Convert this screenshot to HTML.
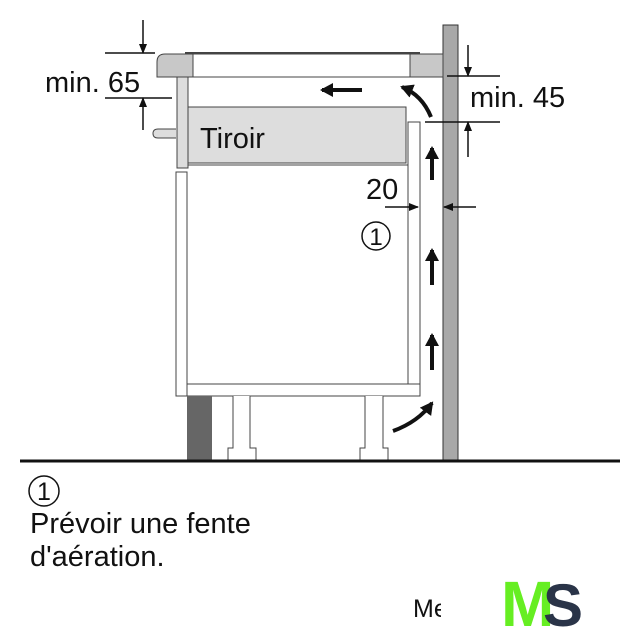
<!DOCTYPE html>
<html><head><meta charset="utf-8"><style>
html,body{margin:0;padding:0;background:#fff;width:643px;height:640px;overflow:hidden}
svg{display:block}
text{font-family:"Liberation Sans",sans-serif;fill:#111}
</style></head><body>
<svg width="643" height="640" viewBox="0 0 643 640" xmlns="http://www.w3.org/2000/svg">
<defs>
<marker id="ah" markerWidth="10" markerHeight="10" refX="9" refY="5" orient="auto" markerUnits="userSpaceOnUse"><path d="M0,1 L10,5 L0,9 Z" fill="#111"/></marker>
<marker id="bh" markerWidth="14" markerHeight="14" refX="11" refY="7" orient="auto" markerUnits="userSpaceOnUse"><path d="M0,0 L13,7 L0,14 Z" fill="#111"/></marker>
</defs>
<rect x="443" y="25" width="15" height="436" fill="#a8a8a8" stroke="#333" stroke-width="1"/>
<line x1="185" y1="53" x2="420" y2="53" stroke="#444" stroke-width="2"/>
<path d="M165,54 H193 V77 H157 V62 Q157,54 165,54 Z" fill="#c8c8c8" stroke="#444"/>
<rect x="193" y="54" width="217" height="23" fill="#fff" stroke="#444"/>
<rect x="410" y="54" width="33" height="23" fill="#c8c8c8" stroke="#444"/>
<rect x="177" y="77" width="11" height="91" fill="#ddd" stroke="#444"/>
<rect x="188" y="107" width="218" height="56" fill="#ddd" stroke="#444"/>
<line x1="188" y1="165" x2="408" y2="165" stroke="#444"/>
<path d="M176,129 H158 Q153,129 153,133.5 Q153,138 158,138 H176" fill="#ddd" stroke="#444"/>
<text x="200" y="148" font-size="29">Tiroir</text>
<rect x="176" y="172" width="11" height="224" fill="#fff" stroke="#444"/>
<rect x="408" y="122" width="12" height="274" fill="#fff" stroke="#444"/>
<rect x="187" y="384" width="233" height="12" fill="#fff" stroke="#444"/>
<rect x="187" y="396" width="25" height="65" fill="#666"/>
<path d="M233,396 V448 H228 V460 H256 V448 H250 V396" fill="#fff" stroke="#444"/>
<path d="M365,396 V448 H360 V460 H388 V448 H383 V396" fill="#fff" stroke="#444"/>
<line x1="20" y1="461" x2="620" y2="461" stroke="#111" stroke-width="3"/>
<line x1="432" y1="180" x2="432" y2="148" stroke="#111" stroke-width="4" marker-end="url(#bh)"/>
<line x1="432" y1="285" x2="432" y2="250" stroke="#111" stroke-width="4" marker-end="url(#bh)"/>
<line x1="432" y1="370" x2="432" y2="335" stroke="#111" stroke-width="4" marker-end="url(#bh)"/>
<path d="M393,431 Q418,422 432,403" fill="none" stroke="#111" stroke-width="4" marker-end="url(#bh)"/>
<path d="M431,117 Q422,95 402,87" fill="none" stroke="#111" stroke-width="4" marker-end="url(#bh)"/>
<line x1="362" y1="90" x2="322" y2="90" stroke="#111" stroke-width="4" marker-end="url(#bh)"/>
<line x1="105" y1="53" x2="155" y2="53" stroke="#111" stroke-width="1.5"/>
<line x1="105" y1="98" x2="172" y2="98" stroke="#111" stroke-width="1.5"/>
<line x1="143" y1="20" x2="143" y2="53" stroke="#111" stroke-width="1.5" marker-end="url(#ah)"/>
<line x1="143" y1="130" x2="143" y2="98" stroke="#111" stroke-width="1.5" marker-end="url(#ah)"/>
<text x="45" y="92" font-size="29">min. 65</text>
<line x1="447" y1="76" x2="500" y2="76" stroke="#111" stroke-width="1.5"/>
<line x1="425" y1="122" x2="500" y2="122" stroke="#111" stroke-width="1.5"/>
<line x1="468" y1="45" x2="468" y2="76" stroke="#111" stroke-width="1.5" marker-end="url(#ah)"/>
<line x1="468" y1="157" x2="468" y2="122" stroke="#111" stroke-width="1.5" marker-end="url(#ah)"/>
<text x="470" y="107" font-size="29">min. 45</text>
<line x1="385" y1="207" x2="418" y2="207" stroke="#111" stroke-width="1.5" marker-end="url(#ah)"/>
<line x1="476" y1="207" x2="444" y2="207" stroke="#111" stroke-width="1.5" marker-end="url(#ah)"/>
<text x="366" y="199" font-size="29">20</text>
<circle cx="376" cy="236" r="14" fill="none" stroke="#111" stroke-width="1.5"/>
<text x="376" y="245" font-size="24" text-anchor="middle">1</text>
<circle cx="44" cy="491" r="15" fill="none" stroke="#111" stroke-width="1.5"/>
<text x="44" y="500" font-size="25" text-anchor="middle">1</text>
<text x="30" y="533" font-size="29">Prévoir une fente</text>
<text x="30" y="566" font-size="29">d'aération.</text>
<text x="413" y="617" font-size="25">Me</text>
<rect x="441" y="590" width="20" height="40" fill="#fff"/>
<text x="501" y="626" font-size="64" font-weight="bold" style="fill:#66ee22;letter-spacing:-5px">M</text>
<text x="543" y="626" font-size="60" font-weight="bold" style="fill:#2a3448">S</text>
</svg>
</body></html>
